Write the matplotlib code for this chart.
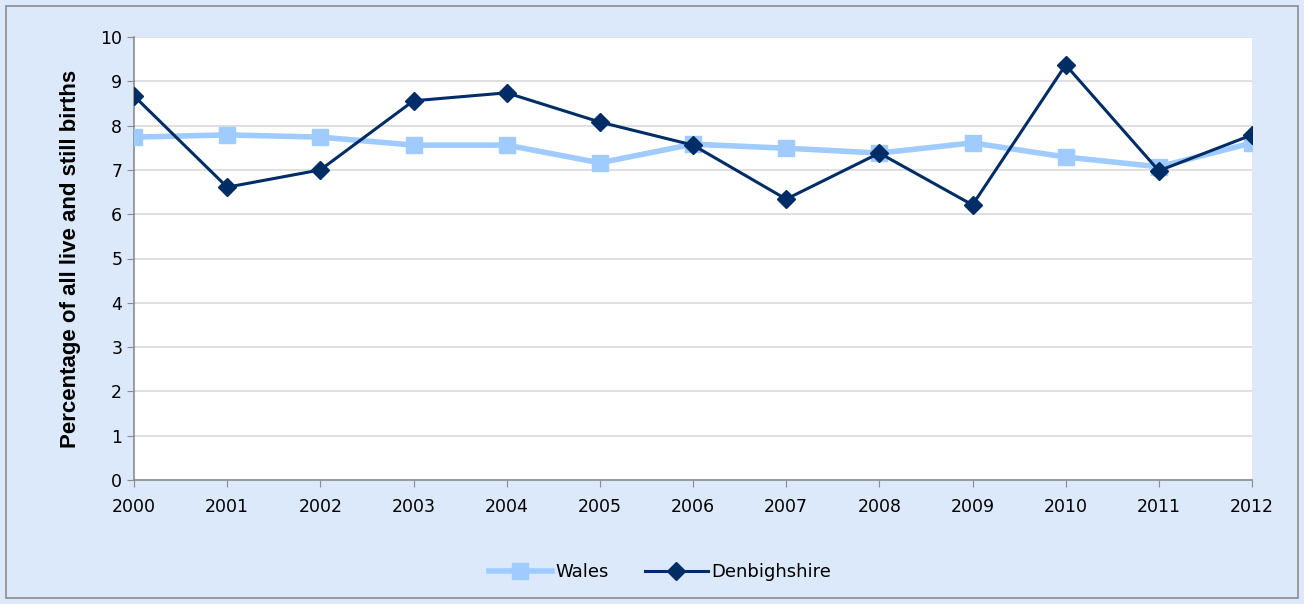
import matplotlib
matplotlib.use("Agg")
import matplotlib.pyplot as plt
from matplotlib.patches import Rectangle

years = list(range(2000, 2013))
wales = [7.74, 7.79, 7.74, 7.56, 7.56, 7.16, 7.58, 7.49, 7.38, 7.61, 7.29, 7.07, 7.61]
denbighshire = [8.67, 6.61, 7.00, 8.56, 8.74, 8.08, 7.56, 6.34, 7.38, 6.21, 9.37, 6.98, 7.79]

bg = "#dbe9fb"
W, H = 1304, 604
fig = plt.figure(figsize=(W / 100, H / 100), dpi=100, facecolor=bg)
fig.patches.append(Rectangle((6 / W, 6 / H), 1 - 12 / W, 1 - 12 / H, transform=fig.transFigure,
                             fill=False, edgecolor="#8c8c8c", linewidth=1.2))

ax = fig.add_axes([134 / W, 1 - 480 / H, (1252 - 134) / W, (480 - 37) / H])
ax.set_facecolor("white")

ax.plot(years, wales, color="#9fcbff", linewidth=4, marker="s", markersize=11,
        label="Wales", zorder=3)
ax.plot(years, denbighshire, color="#002d66", linewidth=2.2, marker="D", markersize=9.5,
        label="Denbighshire", zorder=4)

ax.set_xlim(2000, 2012)
ax.set_ylim(0, 10)
ax.set_xticks(years)
ax.set_yticks(range(0, 11))
ax.yaxis.grid(True, color="#d9d9d9", linewidth=1.2)
ax.set_axisbelow(True)
for s in ["top", "right"]:
    ax.spines[s].set_visible(False)
for s in ["left", "bottom"]:
    ax.spines[s].set_color("#8c8c8c")
    ax.spines[s].set_linewidth(1.2)
ax.tick_params(axis="both", colors="#8c8c8c", labelcolor="black", labelsize=12.5, length=5)
ax.tick_params(axis="x", pad=8)
for t in ax.get_xticklabels():
    t.set_clip_on(False)

ax.set_ylabel("Percentage of all live and still births", fontsize=16, fontweight="bold",
              fontfamily="Liberation Sans", labelpad=14)

fig.legend(loc="center", bbox_to_anchor=(660 / W, 1 - 572 / H), ncol=2, frameon=False,
           fontsize=13, handlelength=3.5, columnspacing=2, handletextpad=0.2)

fig.savefig("out.png", dpi=100, facecolor=bg)
